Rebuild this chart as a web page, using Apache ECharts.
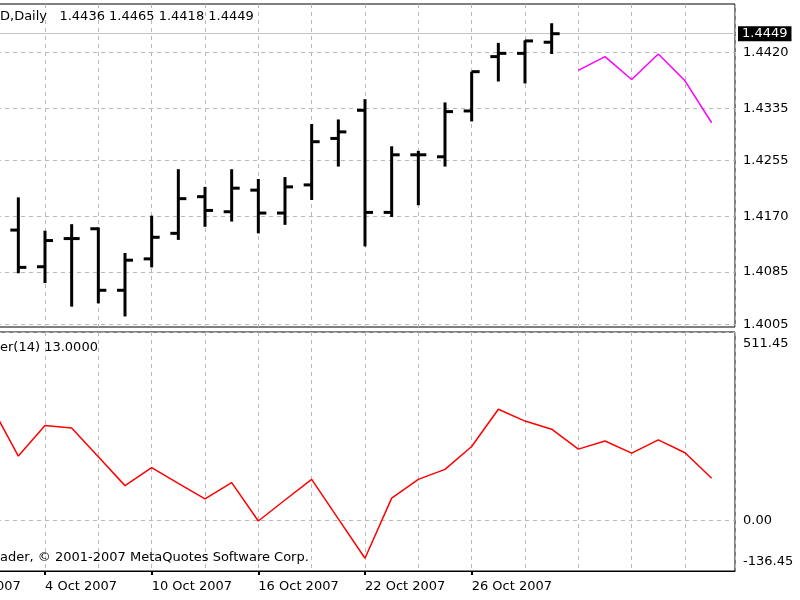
<!DOCTYPE html>
<html>
<head>
<meta charset="utf-8">
<script src="https://cdn.jsdelivr.net/npm/echarts@6/dist/echarts.min.js"></script>
<style>
html, body { margin: 0; padding: 0; background: #fff; }
#chart { width: 800px; height: 600px; }
</style>
</head>
<body>
<div id="chart"></div>
<script>
// daily bars, index 0 is the one just off the left edge
const barOpen  = [1.4170, 1.4149, 1.4093, 1.4136, 1.4151, 1.4057, 1.4105, 1.4144, 1.4200, 1.4177, 1.4210, 1.4175, 1.4218, 1.4289, 1.4332, 1.4176, 1.4264, 1.4261, 1.4331, 1.4414, 1.4419, 1.4436];
const barHigh  = [1.4190, 1.4199, 1.4148, 1.4158, 1.4153, 1.4114, 1.4171, 1.4242, 1.4215, 1.4242, 1.4227, 1.4230, 1.4311, 1.4318, 1.4349, 1.4277, 1.4270, 1.4344, 1.4391, 1.4435, 1.4439, 1.4465];
const barLow   = [1.4140, 1.4083, 1.4068, 1.4032, 1.4037, 1.4017, 1.4092, 1.4134, 1.4154, 1.4162, 1.4144, 1.4157, 1.4195, 1.4246, 1.4124, 1.4169, 1.4187, 1.4246, 1.4315, 1.4376, 1.4373, 1.4418];
const barClose = [1.4149, 1.4092, 1.4133, 1.4136, 1.4057, 1.4103, 1.4138, 1.4197, 1.4179, 1.4213, 1.4175, 1.4215, 1.4284, 1.4299, 1.4176, 1.4264, 1.4264, 1.4330, 1.4391, 1.4419, 1.4438, 1.4449];

// magenta projection after the last bar
const projStart = 22;
const projValues = [1.4393, 1.4414, 1.4379, 1.4418, 1.4377, 1.4313];

// lower window indicator, from index 0
const indValues = [309, 175, 258, 251, 173, 95, 144, 101, 59, 103, -1, 56, 112, 5, -102, 61, 112, 139, 201, 302, 270, 248, 194, 216, 183, 219, 184, 115];

const priceTicks = [1.4005, 1.4085, 1.4170, 1.4255, 1.4335, 1.4420];
const indTicks = [-136.45, 0, 511.45];
const dateTickIdx = [-2, 2, 6, 10, 14, 18];
const dateLabels = ['28 Sep 2007', '4 Oct 2007', '10 Oct 2007', '16 Oct 2007', '22 Oct 2007', '26 Oct 2007'];

const font = 'DejaVu Sans';
const gridLine = { show: true, lineStyle: { color: '#b8b8b8', type: [4, 4], width: 1 } };

const ohlc = barOpen.map((o, i) => [i, o, barHigh[i], barLow[i], barClose[i]]);
const proj = projValues.map((v, k) => [projStart + k, v]);
const ind = indValues.map((v, i) => [i, v]);
const lastClose = barClose[barClose.length - 1];

function renderBar(params, api) {
	const i = api.value(0);
	const o = api.coord([i, api.value(1)]);
	const h = api.coord([i, api.value(2)]);
	const l = api.coord([i, api.value(3)]);
	const c = api.coord([i, api.value(4)]);
	const style = { stroke: '#000', lineWidth: 3 };
	return {
		type: 'group',
		children: [
			{ type: 'line', shape: { x1: h[0], y1: h[1], x2: l[0], y2: l[1] }, style: style },
			{ type: 'line', shape: { x1: o[0] - 8, y1: o[1], x2: o[0], y2: o[1] }, style: style },
			{ type: 'line', shape: { x1: c[0], y1: c[1], x2: c[0] + 8, y2: c[1] }, style: style }
		]
	};
}

const xBase = {
	type: 'value',
	min: -4,
	max: 27.875,
	interval: 2,
	axisLine: { show: false },
	axisTick: { show: false },
	axisLabel: { show: false },
	splitLine: gridLine
};

let chart = echarts.init(document.getElementById('chart'));
let option = {
	animation: false,
	backgroundColor: '#fff',
	textStyle: { fontFamily: font },
	title: [
		{ text: 'D,Daily   1.4436 1.4465 1.4418 1.4449', left: 0, top: 10, padding: 0,
			textStyle: { fontFamily: font, fontSize: 13, fontWeight: 'normal', color: '#000' } },
		{ text: 'er(14) 13.0000', left: 0, top: 341, padding: 0,
			textStyle: { fontFamily: font, fontSize: 13, fontWeight: 'normal', color: '#000' } },
		{ text: 'ader, © 2001-2007 MetaQuotes Software Corp.', left: 0, top: 551, padding: 0,
			textStyle: { fontFamily: font, fontSize: 13, fontWeight: 'normal', color: '#000' } }
	],
	grid: [
		{ left: -115, width: 850, top: 4, height: 323, show: true, borderColor: '#000', borderWidth: 1, outerBoundsMode: 'none', containLabel: false },
		{ left: -115, width: 850, top: 332, height: 239, show: true, borderColor: '#000', borderWidth: 1, outerBoundsMode: 'none', containLabel: false }
	],
	xAxis: [
		Object.assign({}, xBase, { gridIndex: 0 }),
		Object.assign({}, xBase, { gridIndex: 1 }),
		{
			type: 'value',
			gridIndex: 1,
			position: 'bottom',
			min: -4,
			max: 27.875,
			splitLine: { show: false },
			axisLine: { show: true, lineStyle: { color: '#000', width: 1 } },
			axisTick: { show: true, customValues: dateTickIdx, length: 4, lineStyle: { color: '#000', width: 2 } },
			axisLabel: {
				customValues: dateTickIdx,
				align: 'left',
				margin: 9,
				color: '#000',
				fontFamily: font,
				fontSize: 13,
				formatter: v => dateLabels[dateTickIdx.indexOf(Math.round(v))] || ''
			}
		}
	],
	yAxis: [
		{
			type: 'value',
			gridIndex: 0,
			position: 'right',
			min: 1.40009,
			max: 1.44944,
			axisLine: { show: false },
			axisTick: { show: true, customValues: priceTicks, length: 3, lineStyle: { color: '#000' } },
			axisLabel: {
				customValues: priceTicks,
				margin: 8,
				color: '#000',
				fontFamily: font,
				fontSize: 13,
				formatter: v => v.toFixed(4)
			},
			splitLine: gridLine
		},
		{
			type: 'value',
			gridIndex: 1,
			position: 'right',
			min: -136.45,
			max: 511.45,
			axisLine: { show: false },
			axisTick: { show: true, customValues: indTicks, length: 3, lineStyle: { color: '#000' } },
			axisLabel: {
				customValues: indTicks,
				margin: 8,
				color: '#000',
				fontFamily: font,
				fontSize: 13,
				verticalAlignMinLabel: 'bottom',
				verticalAlignMaxLabel: 'top',
				padding: [5, 0, 3, 0],
				formatter: v => v.toFixed(2)
			},
			splitLine: gridLine
		}
	],
	series: [
		{
			name: 'bars',
			type: 'custom',
			xAxisIndex: 0,
			yAxisIndex: 0,
			z: 5,
			renderItem: renderBar,
			encode: { x: 0, y: [1, 2, 3, 4] },
			data: ohlc
		},
		{
			name: 'projection',
			type: 'line',
			xAxisIndex: 0,
			yAxisIndex: 0,
			showSymbol: false,
			lineStyle: { color: '#ff00ff', width: 1.5 },
			data: proj,
			markLine: {
				silent: true,
				symbol: 'none',
				precision: 4,
				lineStyle: { color: '#c4c4c4', type: 'solid', width: 1 },
				label: {
					position: 'end',
					distance: 3,
					formatter: () => lastClose.toFixed(4),
					color: '#fff',
					backgroundColor: '#000',
					padding: [2, 4, 0, 4],
					fontFamily: font,
					fontSize: 13
				},
				data: [{ yAxis: lastClose }]
			}
		},
		{
			name: 'indicator',
			type: 'line',
			xAxisIndex: 1,
			yAxisIndex: 1,
			showSymbol: false,
			lineStyle: { color: '#ff0000', width: 1.5 },
			data: ind
		}
	]
};
option && chart.setOption(option);
</script>
</body>
</html>
